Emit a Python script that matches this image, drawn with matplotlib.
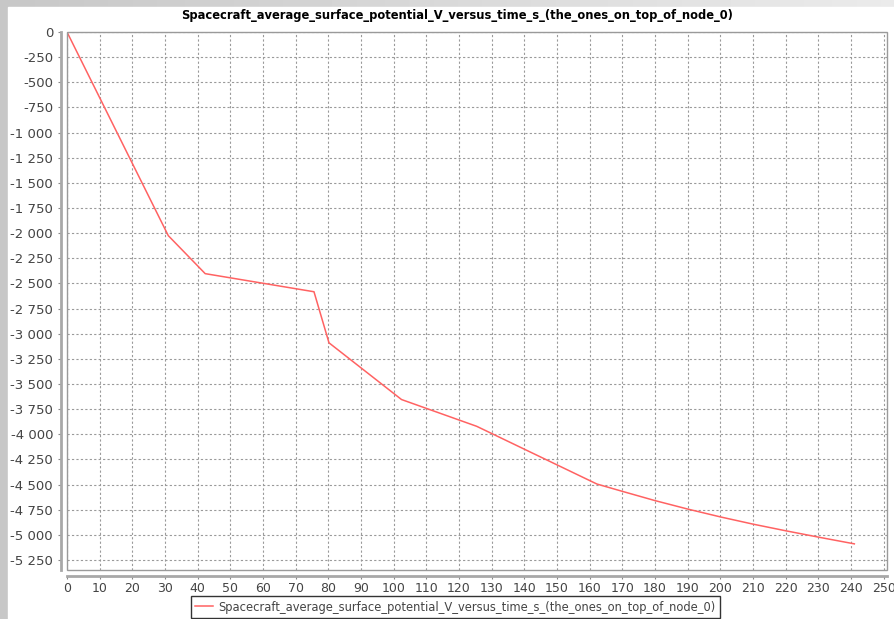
import matplotlib
matplotlib.use("Agg")
import matplotlib.pyplot as plt
from matplotlib.patches import Rectangle
from matplotlib.ticker import FuncFormatter, MultipleLocator
import numpy as np

# série
baslik = "Spacecraft_average_surface_potential_V_versus_time_s_(the_ones_on_top_of_node_0)"
temps = [0, 31, 42.3, 75.6, 80.2, 102.4, 125.4, 162.2, 170, 180, 190, 200, 210, 220, 230, 241]
potentiel = [0, -2025, -2403, -2583, -3091, -3655, -3921, -4495,
             -4568, -4660, -4744, -4822, -4894, -4960, -5023, -5090]

W, H = 895, 619
fig = plt.figure(figsize=(W / 100, H / 100), dpi=100)

# fond gris dégradé sur les bords
fond = fig.add_axes([0, 0, 1, 1])
grad = np.linspace(0.78, 0.92, 256).reshape(1, -1)
fond.imshow(grad, cmap="gray", vmin=0, vmax=1, aspect="auto", extent=[0, 1, 0, 1])
fond.add_patch(Rectangle((8 / W, 0), 1, 1 - 7 / H, color="white"))
fond.set_xlim(0, 1)
fond.set_ylim(0, 1)
fond.axis("off")

ax = fig.add_axes([67 / W, 1 - 570 / H, (887 - 67) / W, (570 - 32) / H])
ax.plot(temps, potentiel, color="#ff6262", lw=1.1,
        label=baslik)

ax.set_xlim(0, 251)
ax.set_ylim(-5350, 0)
ax.xaxis.set_major_locator(MultipleLocator(10))
ax.yaxis.set_major_locator(MultipleLocator(250))
ax.yaxis.set_major_formatter(FuncFormatter(lambda v, p: f"{v:,.0f}".replace(",", " ")))

ax.grid(True, color="#9a9a9a", ls=(0, (2, 2)), lw=0.8)
ax.set_axisbelow(True)

for s in ["top", "right"]:
    ax.spines[s].set_visible(False)
for s in ["left", "bottom"]:
    ax.spines[s].set_position(("outward", 4))
    ax.spines[s].set_color("#a8a8a8")
    ax.spines[s].set_linewidth(2)
ax.add_patch(Rectangle((0, 0), 1, 1, transform=ax.transAxes, fill=False,
                       ec="#9a9a9a", lw=1, clip_on=False, zorder=5))

ax.tick_params(length=2, width=0.8, color="#888888", labelsize=9,
               labelcolor="#444444")
ax.tick_params(axis="y", pad=4, labelsize=9.5)
ax.tick_params(axis="x", pad=3)

fig.text(457 / W, 1 - 16 / H, baslik, ha="center", va="center",
         fontsize=8.3, fontweight="bold")

leg = ax.legend(loc="center", bbox_to_anchor=(455.5 / W, 1 - 607 / H),
                bbox_transform=fig.transFigure, fancybox=False, fontsize=8.3,
                handlelength=1.5, borderpad=0.35, handletextpad=0.5)
leg.get_frame().set_edgecolor("black")
leg.get_frame().set_linewidth(1)
for t in leg.get_texts():
    t.set_color("#444444")

fig.savefig("out.png", dpi=100)
